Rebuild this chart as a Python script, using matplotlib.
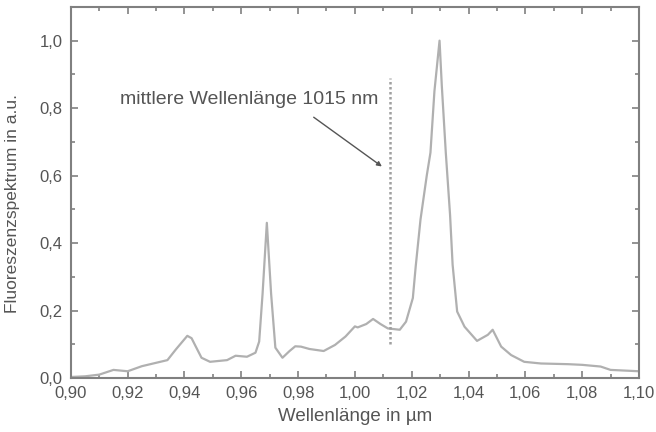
import matplotlib
matplotlib.use("Agg")
import matplotlib.pyplot as plt
from matplotlib.ticker import MultipleLocator, FuncFormatter

wavelength = [0.900, 0.905, 0.910, 0.915, 0.920, 0.925, 0.930, 0.934, 0.937, 0.939, 0.941,
              0.9425, 0.944, 0.946, 0.949, 0.955, 0.958, 0.962, 0.965, 0.9663, 0.9675, 0.969,
              0.9705, 0.972, 0.9745, 0.977, 0.979, 0.981, 0.984, 0.989, 0.993, 0.9967, 1.000,
              1.001, 1.004, 1.0064, 1.009, 1.0116, 1.0158, 1.018, 1.0204, 1.0214, 1.0231, 1.0253, 1.0266,
              1.028, 1.0298, 1.0306, 1.032, 1.0335, 1.0344, 1.036, 1.0386, 1.043, 1.0468,
              1.0485, 1.0515, 1.055, 1.0596, 1.0655, 1.075, 1.080, 1.0865, 1.090, 1.095, 1.100]
intensity = [0.003, 0.005, 0.010, 0.024, 0.020, 0.035, 0.045, 0.053, 0.085, 0.105, 0.125,
             0.118, 0.093, 0.060, 0.048, 0.053, 0.066, 0.063, 0.075, 0.108, 0.250, 0.460,
             0.250, 0.090, 0.060, 0.080, 0.094, 0.093, 0.086, 0.080, 0.098, 0.123, 0.153,
             0.150, 0.160, 0.175, 0.160, 0.147, 0.143, 0.167, 0.237, 0.330, 0.470, 0.600, 0.668,
             0.850, 1.000, 0.866, 0.668, 0.484, 0.336, 0.197, 0.152, 0.110, 0.128,
             0.143, 0.093, 0.068, 0.048, 0.043, 0.041, 0.039, 0.034, 0.024, 0.022, 0.020]

mean_wavelength = 1.0122
mean_line_range = [0.10, 0.89]
annotation_text = "mittlere Wellenlänge 1015 nm"
xlabel = "Wellenlänge in µm"
ylabel = "Fluoreszenzspektrum in a.u."

plt.rcParams['font.family'] = ['Liberation Sans', 'DejaVu Sans']
txt_color = '#555555'
spine_color = '#808080'

fig = plt.figure(figsize=(6.56, 4.32), dpi=100)
ax = fig.add_axes([0.108, 0.125, 0.866, 0.859])

ax.plot(wavelength, intensity, color='#b0b0b0', lw=1.6)
ax.plot([mean_wavelength, mean_wavelength], mean_line_range, color='#a0a0a0',
        lw=1.8, linestyle=(0, (1, 1)))

ax.annotate("", xy=(1.0095, 0.627), xytext=(0.9855, 0.773),
            arrowprops=dict(arrowstyle='-|>', color='#555555', lw=1.0,
                            mutation_scale=7, shrinkA=0, shrinkB=0))
ax.text(0.9172, 0.826, annotation_text, fontsize=14, color=txt_color,
        ha='left', va='center')

ax.set_xlim(0.90, 1.10)
ax.set_ylim(0.0, 1.10)
ax.xaxis.set_major_locator(MultipleLocator(0.02))
ax.xaxis.set_minor_locator(MultipleLocator(0.01))
ax.yaxis.set_major_locator(MultipleLocator(0.2))
ax.yaxis.set_minor_locator(MultipleLocator(0.1))
ax.xaxis.set_major_formatter(FuncFormatter(lambda v, p: f"{v:.2f}".replace('.', ',')))
ax.yaxis.set_major_formatter(FuncFormatter(lambda v, p: f"{v:.1f}".replace('.', ',')))

ax.tick_params(which='both', direction='in', top=True, right=True,
               color=spine_color, labelcolor=txt_color, labelsize=12)
ax.tick_params(which='major', length=5, width=1.2, pad=6)
ax.tick_params(which='minor', length=3, width=1.2)
for s in ax.spines.values():
    s.set_color(spine_color)
    s.set_linewidth(1.5)

ax.set_xlabel(xlabel, fontsize=13.5, color=txt_color, labelpad=5)
ax.set_ylabel(ylabel, fontsize=12.5, color=txt_color)
ax.yaxis.set_label_coords(-0.09, 0.47)

fig.savefig("out.png", dpi=100)
